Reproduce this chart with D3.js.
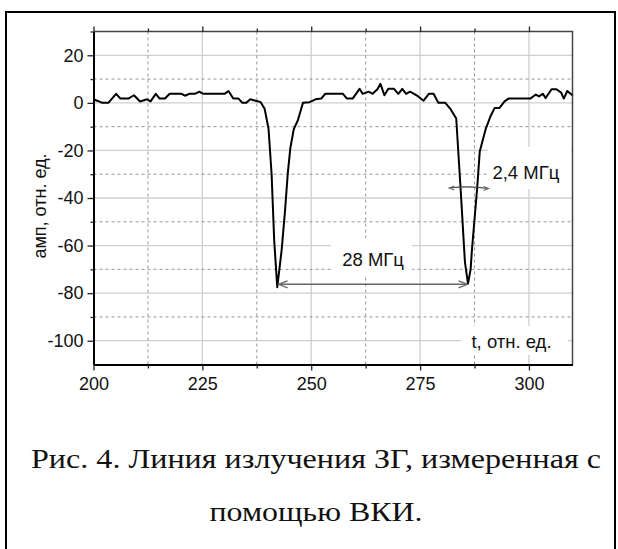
<!DOCTYPE html>
<html>
<head>
<meta charset="utf-8">
<script src="https://cdn.jsdelivr.net/npm/d3@7"></script>
<style>
  body { margin: 0; background: #fff; }
  svg { display: block; }
  .tick text { font-family: "Liberation Sans", Arial, sans-serif; font-size: 18px; fill: #111; }
</style>
</head>
<body>
<svg id="chart" width="618" height="549"></svg>
<script>
// signal
const tVals = [200, 201, 202, 203.4, 205.2, 206.2, 208, 209.3, 210.7, 212.3, 213.1, 214.3, 215.2, 216.4, 217.5,
  220.2, 221, 222, 223.3, 224.3, 225.2, 230.1, 231, 232.1, 233.3, 234.2, 235.1, 236, 237.2, 238.4,
  239.3, 240.2, 240.9, 241.5, 242.2, 243.2, 244, 244.6, 245.2, 246, 246.9, 248.1, 249.6, 251, 252.3,
  253.2, 257.3, 258.2, 259.5, 261.1, 261.8, 263.2, 264.1, 265.2, 265.9, 266.8, 267.7, 269, 270, 270.9,
  271.8, 272.7, 273.6, 274.5, 275.8, 277, 278.1, 279.2, 280.8, 281.9, 283.3, 284.3, 285.3, 286, 286.6,
  286.9, 288.1, 288.7, 290.1, 291.2, 292.1, 293.2, 294.4, 295.3, 300.3, 301.6, 302.3, 303.2, 303.8,
  305.2, 306.3, 307.4, 308, 308.8, 310];
const ampVals = [1.5, 0.8, 0, 0, 3.8, 1.8, 1.8, 3.2, 0.6, 1.5, 0.6, 3.8, 1.8, 1.8, 3.8,
  3.8, 3, 3.8, 3.8, 4.7, 3.8, 3.8, 5, 1.8, 1.8, 0, 0, 1.5, 0.9, 0.3,
  -2.5, -11, -30, -58, -77.5, -62, -45, -30, -19, -11, -7.5, 0, 0.3, 1.5, 1.8,
  3.8, 3.8, 1.8, 1.8, 5.9, 3.8, 4.7, 3.8, 5.7, 8, 3.2, 5.9, 5.9, 3.8, 5.9,
  3.8, 4.7, 3.8, 2.8, 0.9, 3.8, 3.8, 0, 0, -2.4, -6.6, -36, -67, -76, -70,
  -62, -36, -20.5, -10.8, -5.5, -2.2, -2.2, 0.6, 1.8, 1.8, 3.5, 2.7, 3.8, 2,
  5.7, 5.7, 4.3, 1.8, 5, 3.2];

const xMajor = [200, 225, 250, 275, 300];
const xMinor = [212.5, 237.5, 262.5, 287.5];
const yMajor = [20, 0, -20, -40, -60, -80, -100];
const yMinor = [30, 10, -10, -30, -50, -70, -90];

// annotations: spacing arrow and linewidth marker
const spacing = {t1: 242.5, t2: 285.9, amp: -76.3, label: "28 МГц"};
const fwhm = {t1: 281.7, t2: 290.7, amp: -35.8, label: "2,4 МГц"};
const xTitle = "t, отн. ед.";
const yTitle = "амп, отн. ед.";
const caption = ["Рис. 4. Линия излучения ЗГ, измеренная с", "помощью ВКИ."];

const svg = d3.select("#chart");
const pL = 93.5, pT = 31.5, pR = 572.5, pB = 364.5;
const x = d3.scaleLinear().domain([200, 310]).range([pL, pR]);
const y = d3.scaleLinear().domain([30, -110]).range([pT, pB]);

svg.append("rect").attr("width", 618).attr("height", 549).attr("fill", "#fff");

// outer figure frame
svg.append("rect").attr("x", 6).attr("y", 12).attr("width", 609).attr("height", 560)
  .attr("fill", "none").attr("stroke", "#000").attr("stroke-width", 2);

// grid
let grid = svg.append("g");
grid.selectAll(".vmaj").data(xMajor.slice(1)).join("line")
  .attr("x1", d => x(d)).attr("x2", d => x(d)).attr("y1", pT).attr("y2", pB)
  .attr("stroke", "#cfcfcf").attr("stroke-width", 1.3);
grid.selectAll(".hmaj").data(yMajor).join("line")
  .attr("x1", pL).attr("x2", pR).attr("y1", d => y(d)).attr("y2", d => y(d))
  .attr("stroke", "#cfcfcf").attr("stroke-width", 1.3);
grid.selectAll(".vmin").data(xMinor).join("line")
  .attr("x1", d => x(d)).attr("x2", d => x(d)).attr("y1", pT).attr("y2", pB)
  .attr("stroke", "#8a8a8a").attr("stroke-width", 0.9).attr("stroke-dasharray", "3,3");
grid.selectAll(".hmin").data(yMinor.slice(1)).join("line")
  .attr("x1", pL).attr("x2", pR).attr("y1", d => y(d)).attr("y2", d => y(d))
  .attr("stroke", "#8a8a8a").attr("stroke-width", 0.9).attr("stroke-dasharray", "3,3");

// white boxes behind labels (they cut the grid)
const boxes = [[331, 238, 81, 37], [461, 326, 107, 29], [488, 147, 83, 42]];
svg.selectAll(".box").data(boxes).join("rect")
  .attr("x", d => d[0]).attr("y", d => d[1]).attr("width", d => d[2]).attr("height", d => d[3])
  .attr("fill", "#fff");

// plot frame top/right
svg.append("path").attr("d", `M${pL},${pT}H${pR}V${pB}`)
  .attr("fill", "none").attr("stroke", "#444").attr("stroke-width", 1.5);

// axes
let ax = svg.append("g").attr("transform", `translate(0,${pB})`)
  .call(d3.axisBottom(x).tickValues(xMajor).tickSize(6).tickSizeOuter(0).tickPadding(7).tickFormat(d => String(d)));
svg.append("g").attr("transform", `translate(0,${pB})`)
  .call(d3.axisBottom(x).tickValues(xMinor).tickSize(4).tickSizeOuter(0).tickFormat(""));
svg.append("g").attr("transform", `translate(0,${pT})`)
  .call(d3.axisTop(x).tickValues(xMajor).tickSize(5).tickSizeOuter(0).tickFormat(""))
  .call(g => g.select(".domain").remove());
svg.append("g").attr("transform", `translate(0,${pT})`)
  .call(d3.axisTop(x).tickValues(xMinor).tickSize(3).tickSizeOuter(0).tickFormat(""))
  .call(g => g.select(".domain").remove());
let ay = svg.append("g").attr("transform", `translate(${pL},0)`)
  .call(d3.axisLeft(y).tickValues(yMajor).tickSize(6).tickSizeOuter(0).tickPadding(4).tickFormat(d => String(d)));
svg.append("g").attr("transform", `translate(${pL},0)`)
  .call(d3.axisLeft(y).tickValues(yMinor).tickSize(3).tickSizeOuter(0).tickFormat(""));
svg.selectAll(".domain").attr("stroke", "#000").attr("stroke-width", 2);
svg.selectAll(".tick line").attr("stroke", "#222").attr("stroke-width", 1.3);
ax.selectAll("text").attr("dy", "0.71em");

// signal
svg.append("path")
  .datum(tVals.map((t, i) => [t, ampVals[i]]))
  .attr("d", d3.line().x(d => x(d[0])).y(d => y(d[1])))
  .attr("fill", "none").attr("stroke", "#000").attr("stroke-width", 2).attr("stroke-linejoin", "round");

// arrows
function arrowHead(g, px, py, dir, len, spread) {
  g.append("path")
    .attr("d", `M${px + dir * len},${py - spread}L${px},${py}L${px + dir * len},${py + spread}`)
    .attr("fill", "none").attr("stroke", "#666").attr("stroke-width", 1.2);
}
let ann = svg.append("g");
ann.append("line")
  .attr("x1", x(spacing.t1)).attr("x2", x(spacing.t2)).attr("y1", y(spacing.amp)).attr("y2", y(spacing.amp))
  .attr("stroke", "#666").attr("stroke-width", 1.5);
arrowHead(ann, x(spacing.t1), y(spacing.amp), 1, 9, 3.5);
arrowHead(ann, x(spacing.t2), y(spacing.amp), -1, 9, 3.5);

ann.append("path")
  .attr("d", `M${x(fwhm.t1)},${y(fwhm.amp)}Q${(x(fwhm.t1) + x(fwhm.t2)) / 2},${y(fwhm.amp) - 2.5} ${x(fwhm.t2)},${y(fwhm.amp) + 0.5}`)
  .attr("fill", "none").attr("stroke", "#444").attr("stroke-width", 1.2);
arrowHead(ann, x(fwhm.t1), y(fwhm.amp), 1, 5, 2);
arrowHead(ann, x(fwhm.t2), y(fwhm.amp) + 0.5, -1, 5, 2);

// labels
const sans = '"Liberation Sans", Arial, sans-serif';
svg.append("text").attr("x", x((spacing.t1 + spacing.t2) / 2)).attr("y", y(-68.6))
  .attr("text-anchor", "middle").attr("font-family", sans).attr("font-size", 18.5).attr("fill", "#111")
  .text(spacing.label);
svg.append("text").attr("x", x(291.6)).attr("y", y(-31.9))
  .attr("font-family", sans).attr("font-size", 18.5).attr("fill", "#111")
  .text(fwhm.label);
svg.append("text").attr("x", x(286.8)).attr("y", y(-103.2))
  .attr("font-family", sans).attr("font-size", 18.5).attr("fill", "#111")
  .text(xTitle);
svg.append("text").attr("transform", "translate(46,206) rotate(-90)")
  .attr("text-anchor", "middle").attr("font-family", sans).attr("font-size", 18).attr("fill", "#111")
  .text(yTitle);

// caption
const capLen = [570, 213];
svg.selectAll(".cap").data(caption).join("text")
  .attr("x", (d, i) => 316 - capLen[i] / 2).attr("y", (d, i) => 468 + i * 53)
  .attr("textLength", (d, i) => capLen[i]).attr("lengthAdjust", "spacingAndGlyphs")
  .attr("font-family", '"Liberation Serif", "Times New Roman", serif')
  .attr("font-size", 28).attr("fill", "#111")
  .text(d => d);
</script>
</body>
</html>
